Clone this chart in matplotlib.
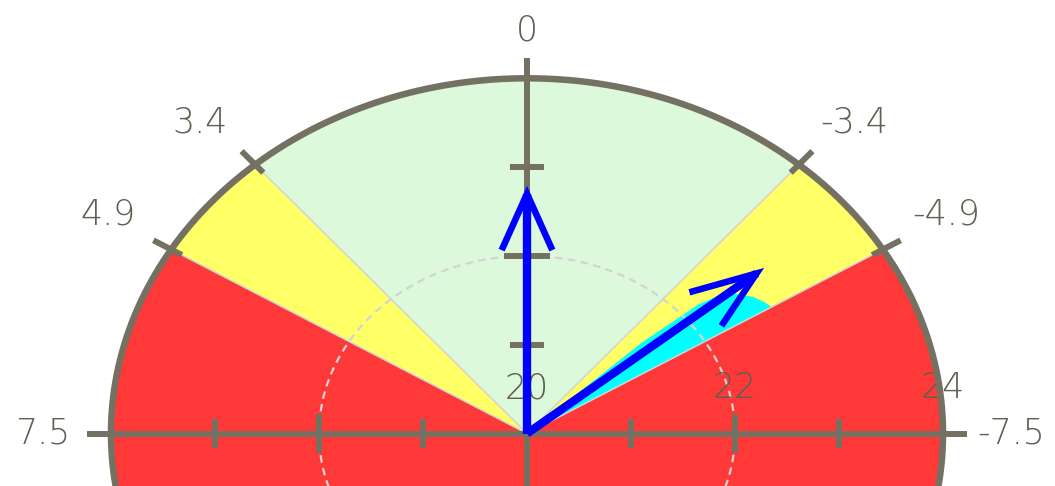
import numpy as np
import matplotlib
matplotlib.use("Agg")
import matplotlib.pyplot as plt

# ---- gauge scale -------------------------------------------------------
angle_ticks = [7.5, 4.9, 3.4, 0.0, -3.4, -4.9, -7.5]
angle_labels = ["7.5", "4.9", "3.4", "0", "-3.4", "-4.9", "-7.5"]
sector_ticks = [4.9, 3.4, -3.4, -4.9]
radial_ticks = [21, 22, 23]
radial_label_values = [20, 22, 24]
radial_labels = ["20", "22", "24"]

# ---- zones ---------------------------------------------------------------
green_limit = 3.4
yellow_limit = 4.9

# ---- readings ------------------------------------------------------------
arrow_values = [0.0, -4.23]
arrow_magnitudes = [22.70, 22.85]

# recent readings cloud (outline: value, magnitude)
cloud_values = [-4.9, -4.9, -4.75, -4.55, -4.4, -4.2, -4.05, -3.93, -3.93, -3.98]
cloud_magnitudes = [20.0, 22.75, 22.72, 22.66, 22.58, 22.5, 22.2, 21.5, 20.8, 20.1]

FULL_SCALE = 7.5      # value shown at 90 degrees
R_MIN, R_MAX = 20.0, 24.0

GREEN = "#dcf9dc"
YELLOW = "#ffff66"
RED = "#ff3838"
CYAN = "#00ffff"
BLUE = "#0000ff"
GRAY = "#747162"
TEXT = "#625f52"
LIGHT = "#d3d3d3"


def to_xy(value, magnitude):
    th = np.deg2rad(np.asarray(value, dtype=float) / FULL_SCALE * 90.0)
    r = np.asarray(magnitude, dtype=float) - R_MIN
    return -r * np.sin(th), r * np.cos(th)


def sector(ax, v1, v2, color, z):
    vals = np.linspace(v1, v2, 200)
    x, y = to_xy(vals, np.full_like(vals, R_MAX))
    ax.fill(np.r_[0, x, 0], np.r_[0, y, 0], color=color, lw=0, zorder=z)


fig = plt.figure(figsize=(10.55, 4.86), dpi=100)
ax = fig.add_axes([0, 0, 1, 1])
ax.set_xlim(-527 / 104, 528 / 104)
ax.set_ylim(-52.5 / 88.8, 433.5 / 88.8)
ax.axis("off")

# zones
sector(ax, -2 * FULL_SCALE, 2 * FULL_SCALE, RED, 1)
sector(ax, -yellow_limit, yellow_limit, YELLOW, 2)
sector(ax, -green_limit, green_limit, GREEN, 3)

# recent readings
cx, cy = to_xy(cloud_values, cloud_magnitudes)
ax.fill(cx, cy, color=CYAN, lw=0, zorder=4)

# zone borders
for v in sector_ticks:
    x, y = to_xy([v, v], [R_MIN, R_MAX])
    ax.plot(x, y, color=LIGHT, lw=1.1, zorder=5)

# reference ring at 22
vals = np.linspace(-2 * FULL_SCALE, 2 * FULL_SCALE, 600)
x, y = to_xy(vals, np.full_like(vals, 22.0))
ax.plot(x, y, color=LIGHT, lw=1.6, ls=(0, (3.4, 2.4)), zorder=5)

# outer rim
x, y = to_xy(vals, np.full_like(vals, R_MAX))
ax.plot(x, y, color=GRAY, lw=4.7, zorder=8)

# axes through the centre
ext = 4.23
ax.plot([-ext, ext], [0, 0], color=GRAY, lw=4.3, solid_capstyle="butt", zorder=8)
ax.plot([0, 0], [-2, ext], color=GRAY, lw=4.3, solid_capstyle="butt", zorder=8)
for m in radial_ticks:
    h = 0.22 if m == 22 else 0.16
    d = m - R_MIN
    for s in (-1, 1):
        ax.plot([s * d, s * d], [-h, h], color=GRAY, lw=4.3,
                solid_capstyle="butt", zorder=8)
    ax.plot([-h, h], [d, d], color=GRAY, lw=4.3, solid_capstyle="butt", zorder=8)

# rim ticks at zone limits
for v in sector_ticks:
    x, y = to_xy([v, v], [23.88, 24.2])
    ax.plot(x, y, color=GRAY, lw=4.3, solid_capstyle="butt", zorder=8)

# labels
font = dict(family=["DejaVu Sans"], weight="light", size=25, color=TEXT)
for v, lab in zip(angle_ticks, angle_labels):
    x, y = to_xy(v, R_MAX)
    th = np.deg2rad(v / FULL_SCALE * 90.0)
    s, c = np.sin(th), np.cos(th)
    off = (-np.sign(s) * 68 * np.sqrt(abs(s)), 48 * np.sqrt(max(c, 0.0)))
    ax.annotate(lab, (x, y), xytext=off, textcoords="offset pixels",
                ha="center", va="center", zorder=9, **font)
for m, lab in zip(radial_label_values, radial_labels):
    ax.text(m - R_MIN, 0.51, lab, ha="center", va="center", zorder=7, **font)

# reading arrows
head_len, head_ang = 0.68, np.deg2rad(21)
for v, m in zip(arrow_values, arrow_magnitudes):
    tx, ty = to_xy(v, m)
    ax.plot([0, tx], [0, ty], color=BLUE, lw=6.0, solid_capstyle="butt", zorder=10)
    back = np.arctan2(-ty, -tx)
    bx = [tx + head_len * np.cos(back + head_ang), tx,
          tx + head_len * np.cos(back - head_ang)]
    by = [ty + head_len * np.sin(back + head_ang), ty,
          ty + head_len * np.sin(back - head_ang)]
    ax.plot(bx, by, color=BLUE, lw=4.7, solid_joinstyle="miter",
            solid_capstyle="butt", zorder=10)

fig.savefig("out.png", dpi=100, facecolor="white")
